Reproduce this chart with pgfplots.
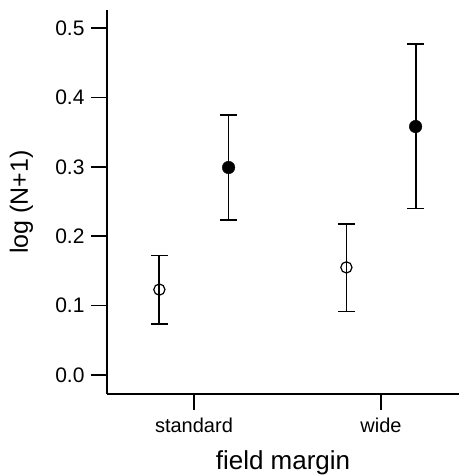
\documentclass[border=0pt]{standalone}
\usepackage{fontspec}
\setmainfont{Liberation Sans}
\usepackage{pgfplots}
\pgfplotsset{compat=1.18}
\usetikzlibrary{calc}
\begin{document}
\begin{tikzpicture}
\begin{axis}[
  scale only axis, width=352pt, height=384pt,
  xmin=0.535, xmax=2.417, ymin=-0.0275, ymax=0.526,
  axis x line*=bottom, axis y line*=left,
  axis line style={line width=1.6pt, -},
  xtick={1,2}, xticklabels={standard,wide},
  ytick={0,0.1,0.2,0.3,0.4,0.5},
  yticklabel style={font=\fontsize{21}{24}\selectfont, xshift=-3pt, /pgf/number format/.cd, fixed, fixed zerofill, precision=1, assume math mode=true},
  xticklabel style={font=\fontsize{20}{24}\selectfont, yshift=-4pt},
  tick align=outside, major tick length=16pt,
  tick style={line width=1.6pt, black},
  xlabel={field margin}, ylabel={log (N+1)},
  xlabel style={font=\fontsize{26}{30}\selectfont, at={(rel axis cs:0.5,0)}, anchor=base, yshift=-75pt},
  ylabel style={font=\fontsize{25}{30}\selectfont, at={(rel axis cs:0,0.5)}, anchor=base, yshift=79pt},
  clip=false,
]
\coordinate (sw) at (rel axis cs:0,0);
\coordinate (ne) at (rel axis cs:1,1);
% open circles
\addplot[only marks, mark=o, mark size=5.6pt, line width=1.2pt, black,
  error bars/.cd, y dir=both, y explicit,
  error bar style={line width=1.8pt, black}, error mark options={rotate=90, mark size=8.5pt, line width=1.8pt}]
  coordinates {(0.815,0.123) += (0,0.049) -= (0,0.050)
               (1.815,0.155) += (0,0.063) -= (0,0.0635)};
% filled circles
\addplot[only marks, mark=*, mark size=6.3pt, black,
  error bars/.cd, y dir=both, y explicit,
  error bar style={line width=1.8pt, black}, error mark options={rotate=90, mark size=8.5pt, line width=1.8pt}]
  coordinates {(1.185,0.299) += (0,0.076) -= (0,0.076)
               (2.185,0.358) += (0,0.119) -= (0,0.118)};
\end{axis}
\pgfresetboundingbox
\path ($(sw)+(-107pt,-81pt)$) rectangle ($(ne)+(0pt,10pt)$);
\end{tikzpicture}
\end{document}
